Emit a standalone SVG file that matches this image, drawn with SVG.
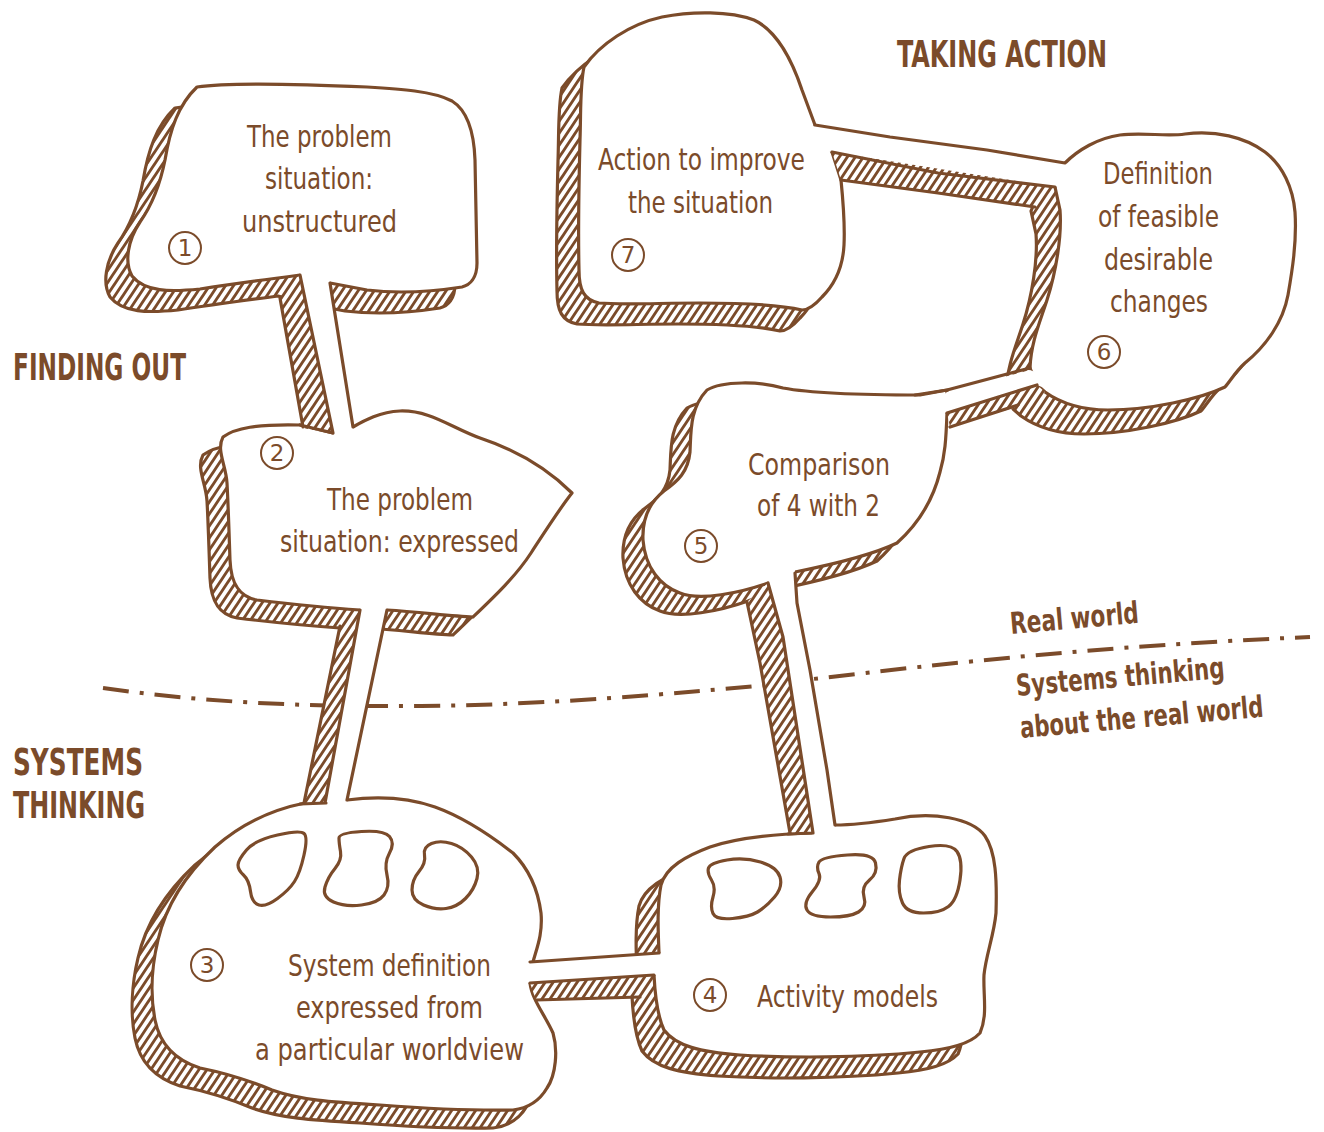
<svg xmlns="http://www.w3.org/2000/svg" width="1324" height="1132" viewBox="0 0 1324 1132">
<defs>
<pattern id="h" patternUnits="userSpaceOnUse" width="8" height="12">
<rect width="8" height="12" fill="#fff"/>
<path d="M-2,15 L10,-3 M-2,3 L2,-3 M6,15 L10,9" stroke="#7b4b2a" stroke-width="2.9"/>
</pattern>
<style>
.o{fill:#fff;stroke:#7b4b2a;stroke-width:3.2;stroke-linejoin:round}
.s{fill:url(#h);stroke:#7b4b2a;stroke-width:3.2;stroke-linejoin:round}
.w{fill:#fff;stroke:none}
.hf{fill:url(#h);stroke:none}
.ln{fill:none;stroke:#7b4b2a;stroke-width:3.2;stroke-linecap:round;stroke-linejoin:round}
.bl{fill:none;stroke:#7b4b2a;stroke-width:3.2;stroke-linejoin:round}
.t{font-family:"DejaVu Sans Condensed","Liberation Sans Narrow","Liberation Sans",sans-serif;font-stretch:condensed;font-size:30px;fill:#7b4b2a;text-anchor:middle}
.hd{font-family:"DejaVu Sans Condensed","Liberation Sans Narrow","Liberation Sans",sans-serif;font-stretch:condensed;font-weight:700;font-size:37px;fill:#7b4b2a}
.rl{font-family:"DejaVu Sans Condensed","Liberation Sans Narrow","Liberation Sans",sans-serif;font-stretch:condensed;font-weight:700;font-size:30px;fill:#7b4b2a}
.nc{fill:none;stroke:#7b4b2a;stroke-width:2}
.nd{font-family:"DejaVu Sans","Liberation Sans",sans-serif;font-size:23px;fill:#7b4b2a;text-anchor:middle}
.dash{fill:none;stroke:#7b4b2a;stroke-width:4;stroke-dasharray:26 11 4 11;stroke-linecap:butt}
</style>
</defs>
<rect width="1324" height="1132" fill="#fff"/>

<path class="dash" d="M 103,688 C 200,702 300,707 420,706 C 550,705 680,693 767,685 L 813,679 C 950,663 1100,646 1310,637"/>

<g id="node1">
<path class="s" transform="translate(-22,21)" d="M 197,87 C 230,82 300,84 367,87 C 400,89 433,91 452,101 C 468,111 474,132 475,160 L 477,263 C 477,278 470,285 462,287 C 430,292 400,294 367,290 L 330,283 L 300,275 C 270,279 233,284 200,289 C 170,292 145,292 132,276 C 124,262 128,240 140,222 C 152,205 160,185 165,160 C 170,130 178,105 197,87 Z"/>
<path class="o" d="M 197,87 C 230,82 300,84 367,87 C 400,89 433,91 452,101 C 468,111 474,132 475,160 L 477,263 C 477,278 470,285 462,287 C 430,292 400,294 367,290 L 330,283 L 300,275 C 270,279 233,284 200,289 C 170,292 145,292 132,276 C 124,262 128,240 140,222 C 152,205 160,185 165,160 C 170,130 178,105 197,87 Z"/>
<text class="t" x="319.5" y="147" textLength="145" lengthAdjust="spacingAndGlyphs">The problem</text>
<text class="t" x="319" y="189" textLength="108" lengthAdjust="spacingAndGlyphs">situation:</text>
<text class="t" x="319.5" y="232" textLength="155" lengthAdjust="spacingAndGlyphs">unstructured</text>
<circle class="nc" cx="185" cy="248" r="16"/><text class="nd" x="185" y="256">1</text>
</g>

<g id="node2">
<path class="s" transform="translate(-20,18)" d="M 223,437 C 235,428 257,424 300,425 L 333,433 L 353,427 C 365,420 380,412 400,411 C 430,410 452,428 480,438 C 510,448 545,466 572,493 C 560,508 546,530 531,553 C 516,576 495,596 473,617 C 450,616 420,612 387,610 L 360,610 C 330,608 282,603 257,600 C 240,597 231,585 230,560 C 229,530 228,500 227,483 C 226,465 216,450 223,437 Z"/>
<path class="o" d="M 223,437 C 235,428 257,424 300,425 L 333,433 L 353,427 C 365,420 380,412 400,411 C 430,410 452,428 480,438 C 510,448 545,466 572,493 C 560,508 546,530 531,553 C 516,576 495,596 473,617 C 450,616 420,612 387,610 L 360,610 C 330,608 282,603 257,600 C 240,597 231,585 230,560 C 229,530 228,500 227,483 C 226,465 216,450 223,437 Z"/>
<text class="t" x="400" y="510" textLength="146" lengthAdjust="spacingAndGlyphs">The problem</text>
<text class="t" x="399.5" y="552" textLength="239" lengthAdjust="spacingAndGlyphs">situation: expressed</text>
<circle class="nc" cx="277" cy="453" r="16"/><text class="nd" x="277" y="461">2</text>
</g>

<g id="node3">
<path class="s" transform="translate(-20,18)" d="M 305,803 L 347,800 C 370,797 401,795 435,807 C 460,816 490,835 513,853 C 530,870 538,890 541,913 C 543,935 536,950 533,962 L 530,983 C 532,1000 545,1015 553,1033 C 558,1050 556,1075 547,1088 C 540,1100 530,1108 513,1110 C 470,1111 420,1108 380,1105 C 330,1102 300,1100 272,1090 C 248,1080 225,1073 200,1068 C 175,1060 160,1045 155,1020 C 150,995 152,965 158,940 C 166,905 185,875 215,847 C 240,825 270,810 305,803 Z"/>
<path class="o" d="M 305,803 L 347,800 C 370,797 401,795 435,807 C 460,816 490,835 513,853 C 530,870 538,890 541,913 C 543,935 536,950 533,962 L 530,983 C 532,1000 545,1015 553,1033 C 558,1050 556,1075 547,1088 C 540,1100 530,1108 513,1110 C 470,1111 420,1108 380,1105 C 330,1102 300,1100 272,1090 C 248,1080 225,1073 200,1068 C 175,1060 160,1045 155,1020 C 150,995 152,965 158,940 C 166,905 185,875 215,847 C 240,825 270,810 305,803 Z"/>
<path class="bl" d="M238,865 Q238,860 246.5,850 Q255,840 277.5,835 Q300,830 304,833.5 Q308,837 304,855 Q300,873 294.5,881.5 Q289,890 277.5,898.5 Q266,907 259,905 Q252,903 250.5,891.5 Q249,880 243.5,875 Q238,870 238,865 Z"/>
<path class="bl" d="M339,838 Q339,833 361.5,831.5 Q384,830 389.5,836.5 Q395,843 389.5,853 Q384,863 387,875 Q390,887 384,895 Q378,903 361.5,905 Q345,907 333.5,902 Q322,897 325,887 Q328,877 335,868.5 Q342,860 340.5,851.5 Q339,843 339,838 Z"/>
<path class="bl" d="M424.5,855 Q423,847 431.5,843.5 Q440,840 451.5,843.5 Q463,847 471.5,857 Q480,867 477,878.5 Q474,890 465.5,898.5 Q457,907 446,908.5 Q435,910 423.5,905 Q412,900 412,890 Q412,880 419,871.5 Q426,863 424.5,855 Z"/>
<text class="t" x="389.5" y="976" textLength="203" lengthAdjust="spacingAndGlyphs">System definition</text>
<text class="t" x="389.5" y="1018" textLength="187" lengthAdjust="spacingAndGlyphs">expressed from</text>
<text class="t" x="389.5" y="1060" textLength="269" lengthAdjust="spacingAndGlyphs">a particular worldview</text>
<circle class="nc" cx="207" cy="965" r="16"/><text class="nd" x="207" y="973">3</text>
</g>

<g id="node4">
<path class="s" transform="translate(-22,21)" d="M 811,833 C 780,834 740,837 710,847 C 686,856 666,867 661,885 C 657,905 658,930 659,953 L 654,975 C 655,995 657,1015 664,1030 C 676,1046 700,1052 740,1055 C 790,1058 860,1058 920,1052 C 950,1049 970,1044 980,1033 C 988,1015 983,995 984,975 C 986,955 994,935 996,913 C 997,880 996,852 985,836 C 972,818 932,811 895,819 C 870,823 850,825 835,825 Z"/>
<path class="o" d="M 811,833 C 780,834 740,837 710,847 C 686,856 666,867 661,885 C 657,905 658,930 659,953 L 654,975 C 655,995 657,1015 664,1030 C 676,1046 700,1052 740,1055 C 790,1058 860,1058 920,1052 C 950,1049 970,1044 980,1033 C 988,1015 983,995 984,975 C 986,955 994,935 996,913 C 997,880 996,852 985,836 C 972,818 932,811 895,819 C 870,823 850,825 835,825 Z"/>
<path class="bl" d="M708.5,868 Q710,863 727,860 Q744,857 760.5,862 Q777,867 780,877 Q783,887 774.5,897 Q766,907 757.5,912 Q749,917 732.5,918.5 Q716,920 713,913.5 Q710,907 713,897 Q716,887 711.5,880 Q707,873 708.5,868 Z"/>
<path class="bl" d="M819,862 Q822,857 847.5,855 Q873,853 875.5,863 Q878,873 869.5,880 Q861,887 864,897 Q867,907 858.5,912 Q850,917 830.5,917 Q811,917 807,910 Q803,903 812.5,891.5 Q822,880 819,873.5 Q816,867 819,862 Z"/>
<path class="bl" d="M904,858.5 Q907,850 929,846.5 Q951,843 957,851.5 Q963,860 960,880 Q957,900 948.5,906.5 Q940,913 923.5,913 Q907,913 902.5,903 Q898,893 899.5,880 Q901,867 904,858.5 Z"/>
<text class="t" x="847.5" y="1007" textLength="181" lengthAdjust="spacingAndGlyphs">Activity models</text>
<circle class="nc" cx="710" cy="995" r="16"/><text class="nd" x="710" y="1003">4</text>
</g>

<g id="node5">
<path class="s" transform="translate(-20,18)" d="M 707,390 C 722,381 760,381 783,388 C 810,393 870,395 920,395 L 947,390 L 947,413 C 946,440 945,455 940,472 C 933,500 917,525 897,543 C 870,556 830,565 795,572 L 768,583 C 740,593 700,601 680,593 C 660,586 645,567 643,540 C 642,518 650,502 664,491 C 678,481 688,472 690,452 C 691,430 690,408 707,390 Z"/>
<path class="o" d="M 707,390 C 722,381 760,381 783,388 C 810,393 870,395 920,395 L 947,390 L 947,413 C 946,440 945,455 940,472 C 933,500 917,525 897,543 C 870,556 830,565 795,572 L 768,583 C 740,593 700,601 680,593 C 660,586 645,567 643,540 C 642,518 650,502 664,491 C 678,481 688,472 690,452 C 691,430 690,408 707,390 Z"/>
<text class="t" x="819" y="475" textLength="142" lengthAdjust="spacingAndGlyphs">Comparison</text>
<text class="t" x="818.5" y="516" textLength="123" lengthAdjust="spacingAndGlyphs">of 4 with 2</text>
<circle class="nc" cx="701" cy="546" r="16"/><text class="nd" x="701" y="554">5</text>
</g>

<g id="node6">
<path class="s" transform="translate(-24,24)" d="M 1065,163 C 1078,150 1098,138 1120,135 C 1145,132 1165,137 1185,134 C 1215,130 1245,137 1265,152 C 1283,166 1293,188 1295,212 C 1297,242 1292,272 1288,295 C 1283,322 1266,346 1245,363 C 1236,371 1231,380 1225,387 C 1200,399 1150,410 1108,410 C 1085,410 1062,404 1045,392 L 1037,385 L 1030,368 C 1031,342 1040,322 1047,300 C 1056,272 1062,236 1060,210 L 1055,187 Z"/>
<path class="o" d="M 1065,163 C 1078,150 1098,138 1120,135 C 1145,132 1165,137 1185,134 C 1215,130 1245,137 1265,152 C 1283,166 1293,188 1295,212 C 1297,242 1292,272 1288,295 C 1283,322 1266,346 1245,363 C 1236,371 1231,380 1225,387 C 1200,399 1150,410 1108,410 C 1085,410 1062,404 1045,392 L 1037,385 L 1030,368 C 1031,342 1040,322 1047,300 C 1056,272 1062,236 1060,210 L 1055,187 Z"/>
<text class="t" x="1158" y="184" textLength="110" lengthAdjust="spacingAndGlyphs">Definition</text>
<text class="t" x="1158.5" y="227" textLength="121" lengthAdjust="spacingAndGlyphs">of feasible</text>
<text class="t" x="1158.5" y="270" textLength="109" lengthAdjust="spacingAndGlyphs">desirable</text>
<text class="t" x="1159" y="312" textLength="98" lengthAdjust="spacingAndGlyphs">changes</text>
<circle class="nc" cx="1104" cy="352" r="16"/><text class="nd" x="1104" y="360">6</text>
</g>

<g id="node7">
<path class="s" transform="translate(-22,21)" d="M 584,67 C 600,44 630,24 662,17 C 692,11 730,11 754,20 C 776,30 792,60 802,90 L 815,125 L 832,152 L 841,180 C 843,200 845,225 844,245 C 843,265 836,283 822,297 C 815,305 808,310 802,310 C 780,305 745,303 700,303 C 660,303 622,305 599,303 C 584,300 579,290 579,270 C 578,230 579,180 580,140 C 581,110 580,85 584,67 Z"/>
<path class="o" d="M 584,67 C 600,44 630,24 662,17 C 692,11 730,11 754,20 C 776,30 792,60 802,90 L 815,125 L 832,152 L 841,180 C 843,200 845,225 844,245 C 843,265 836,283 822,297 C 815,305 808,310 802,310 C 780,305 745,303 700,303 C 660,303 622,305 599,303 C 584,300 579,290 579,270 C 578,230 579,180 580,140 C 581,110 580,85 584,67 Z"/>
<text class="t" x="701.5" y="170" textLength="207" lengthAdjust="spacingAndGlyphs">Action to improve</text>
<text class="t" x="700.5" y="213" textLength="145" lengthAdjust="spacingAndGlyphs">the situation</text>
<circle class="nc" cx="628" cy="255" r="16"/><text class="nd" x="628" y="263">7</text>
</g>

<g id="connectors">
<g id="pipe1-2">
<polygon class="w" points="298,262 332,266 330,283 353,427 357,442 333,442 333,433 300,275"/>
<polygon class="hf" points="300,275 333,433 303,428 280,298"/>
<path class="ln" d="M280,298 L303,427 M300,275 L333,433 M330,283 L353,427 M300,425 L333,433"/>
</g>
<g id="pipe2-3">
<polygon class="w" points="358,600 390,600 387,610 347,800 350,812 323,812 325,803 360,610"/>
<polygon class="hf" points="360,610 325,803 304,803 340,626"/>
<path class="ln" d="M340,626 L304,803 M360,610 L325,803 M387,610 L347,800 M300,804 L326,803"/>
</g>
<g id="pipe3-4">
<polygon class="w" points="522,963 530,962 659,953 668,953 668,975 654,975 530,983 522,983"/>
<polygon class="hf" points="530,983 654,975 642,997 536,1000"/>
<path class="ln" d="M530,962 L659,953 M530,983 L654,975 M536,1000 L640,997"/>
</g>
<g id="pipe5-4">
<polygon class="w" points="766,570 795,565 795,573 797,603 810,670 827,770 835,825 837,842 813,842 813,833 783,637 768,583"/>
<polygon class="hf" points="768,583 783,637 813,833 790,833 760,663 747,602"/>
<path class="ln" d="M747,602 L760,663 L790,833 M768,583 L783,637 L813,833 M795,573 L797,603 L810,670 L827,770 L835,825 M788,834 L813,833"/>
</g>
<g id="pipe5-6">
<polygon class="w" points="941,397 947,392 1030,370 1035,372 1042,387 1037,385 947,413 941,413"/>
<polygon class="hf" points="947,413 1037,385 1045,392 1023,405 950,427"/>
<path class="ln" d="M915,395 L947,390 L1030,368 M947,413 L1037,385 M950,427 L1018,405"/>
</g>
<g id="pipe7-6">
<polygon class="w" points="805,130 812,128 815,125 1065,163 1072,166 1070,187 1055,187 832,152 805,150"/>
<polygon class="hf" points="832,152 1055,187 1035,207 841,180"/>
<path class="ln" d="M815,125 L890,137 L987,150 L1065,163 M832,152 L938,173 L1055,187 M841,180 L938,193 L1035,207"/>
</g>
</g>

<text class="hd" x="897" y="67" textLength="210" lengthAdjust="spacingAndGlyphs">TAKING ACTION</text>
<text class="hd" x="13" y="380" textLength="173" lengthAdjust="spacingAndGlyphs">FINDING OUT</text>
<text class="hd" x="13" y="775" textLength="130" lengthAdjust="spacingAndGlyphs">SYSTEMS</text>
<text class="hd" x="13" y="818" textLength="132" lengthAdjust="spacingAndGlyphs">THINKING</text>
<text class="rl" x="1011" y="634" transform="rotate(-5 1011 634)" textLength="129" lengthAdjust="spacingAndGlyphs">Real world</text>
<text class="rl" x="1017" y="696" transform="rotate(-5 1017 696)" textLength="209" lengthAdjust="spacingAndGlyphs">Systems thinking</text>
<text class="rl" x="1021" y="738" transform="rotate(-5 1021 738)" textLength="244" lengthAdjust="spacingAndGlyphs">about the real world</text>
</svg>
